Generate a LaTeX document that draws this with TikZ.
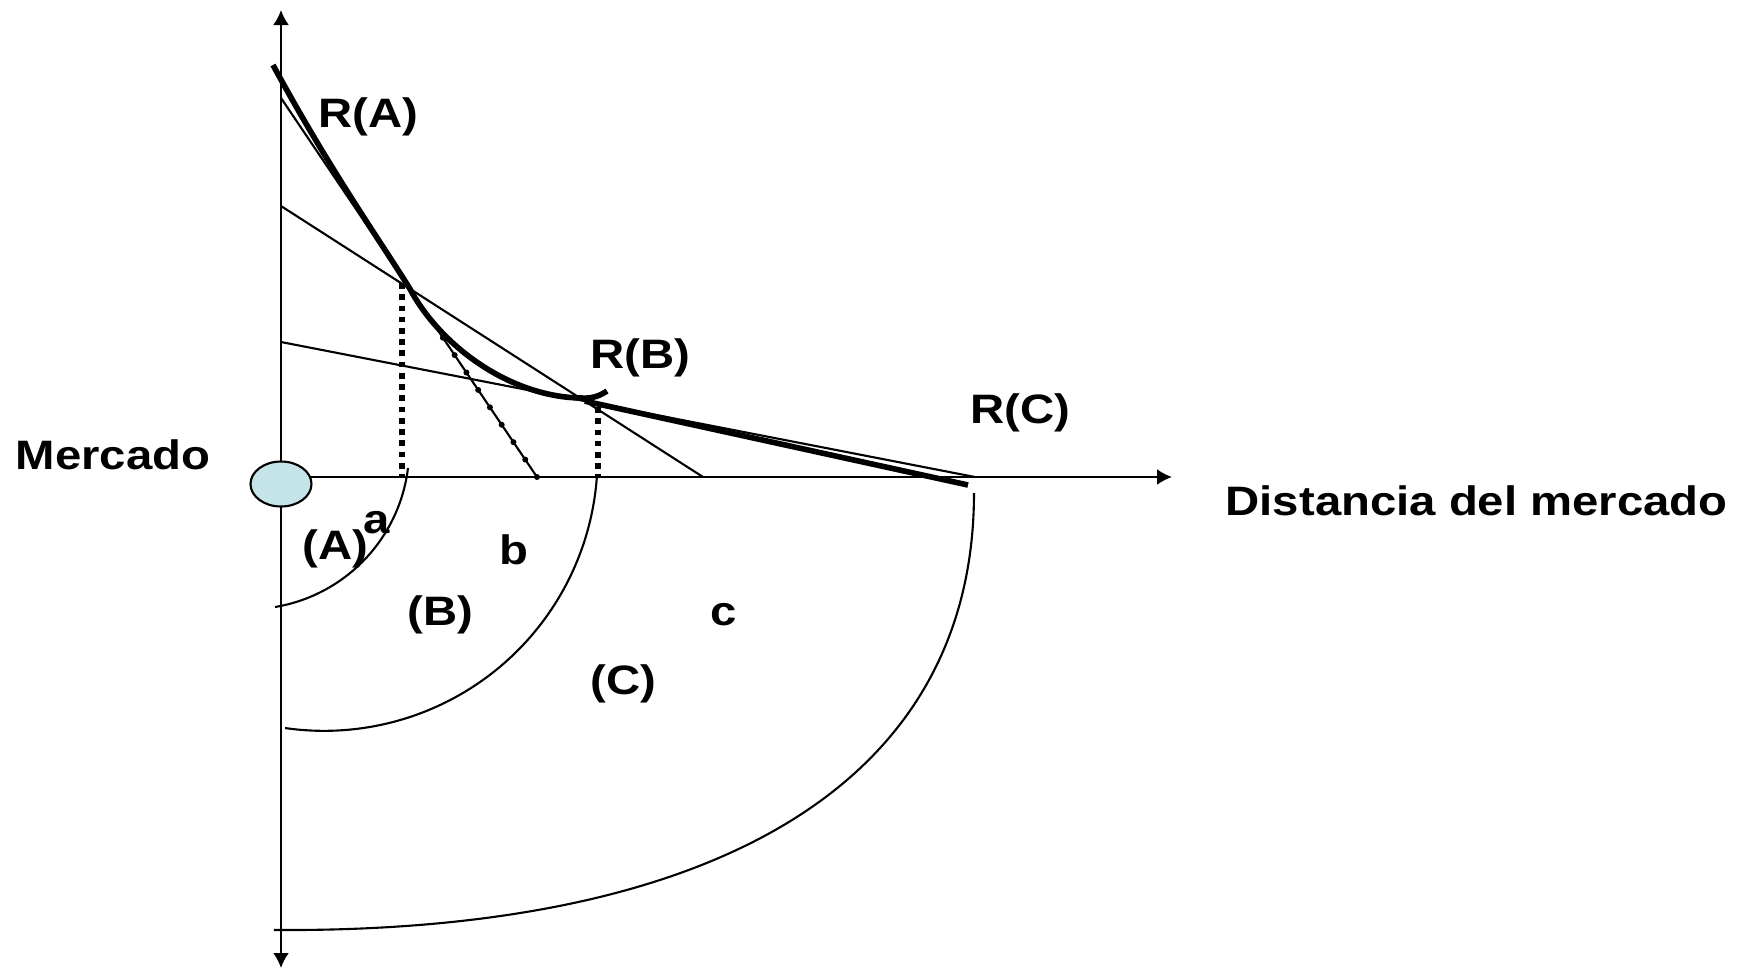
\documentclass[tikz,border=0pt]{standalone}
\usepackage{fontspec}
\newfontfamily\arialb[FakeStretch=1.15]{Liberation Sans}
\usepackage{tikz}
\usetikzlibrary{calc, shapes.geometric, arrows.meta}
\definecolor{celeste}{RGB}{197,228,232}

\begin{document}
\begin{tikzpicture}[>={Latex[length=1.5mm,width=1.6mm]},
    fina/.style={line width=0.6pt},
    renta/.style={line width=1.6pt},
    punteado/.style={line width=1.6pt, dash pattern=on 1.6pt off 1.6pt},
    etiq/.style={font=\arialb\bfseries\fontsize{11.7}{14}\selectfont, anchor=base west, inner sep=0pt}]
    \useasboundingbox (-2.81,-4.92) rectangle (14.67,4.77);

    % Ejes
    \draw[fina, <->] (0,4.67) -- (0,-4.91);
    \draw[fina, ->] (0,0) -- (8.91,0);
    \node[ellipse, draw, fina, fill=celeste, minimum width=0.61cm,
          minimum height=0.45cm, inner sep=0pt] (merc) at (0,-0.07) {};

    % Rectas de renta
    \coordinate (ya) at (0,3.79);  \coordinate (xa) at (2.56,0);
    \coordinate (yb) at (0,2.71);  \coordinate (xb) at (4.22,0);
    \coordinate (yc) at (0,1.35);  \coordinate (xc) at (6.94,0);
    \coordinate (tA) at (intersection of ya--xa and yb--xb);
    \coordinate (tB) at (intersection of yb--xb and yc--xc);
    \draw[fina] (ya) -- (xa);
    \draw[fina] (yb) -- (xb);
    \draw[fina] (yc) -- (xc);
    \foreach \i in {0,...,8}
        \fill ($(tA)!{0.26+0.0925*\i}!(xa)$) circle (0.03);

    % Limites de las zonas
    \coordinate (dA) at (1.21,1.94);
    \coordinate (dB) at (3.17,0.70);
    \draw[punteado] (dA) -- (dA |- xa);
    \draw[punteado] (dB) -- (dB |- xa);

    % Envolvente de renta
    \draw[renta] (-0.08,4.12) .. controls (0.5,3.05) and (1.0,2.35) .. (tA)
        .. controls (1.6,1.3) and (2.3,0.8) .. (3.0,0.79)
        .. controls (3.12,0.78) and (3.2,0.82) .. (3.26,0.86);
    \draw[renta] (tB) -- (6.87,-0.08);

    % Anillos
    \draw[fina] (1.27,0.089) arc[start angle=-7, end angle=-80.5, radius=1.607];
    \draw[fina] (3.16,0.02) arc[start angle=-3.7, end angle=-98.2, radius=2.735];
    \draw[fina] (6.93,-0.16) .. controls (6.93,-3.0) and (4.45,-4.56) .. (-0.07,-4.53);

    % Etiquetas
    \node[etiq] (ra) at (0.37,3.50) {R(A)};
    \node[etiq] (rb) at (3.09,1.09) {R(B)};
    \node[etiq] (rc) at (6.89,0.54) {R(C)};
    \node[etiq] (mercado) at (-2.66,0.08) {Mercado};
    \node[etiq] (dist) at (9.44,-0.38) {Distancia del mercado};
    \node[etiq] (zA) at (0.21,-0.82) {(A)};
    \node[etiq] (la) at (0.82,-0.56) {a};
    \node[etiq] (lb) at (2.18,-0.87) {b};
    \node[etiq] (zB) at (1.26,-1.48) {(B)};
    \node[etiq] (lc) at (4.29,-1.48) {c};
    \node[etiq] (zC) at (3.09,-2.17) {(C)};
\end{tikzpicture}
\end{document}
